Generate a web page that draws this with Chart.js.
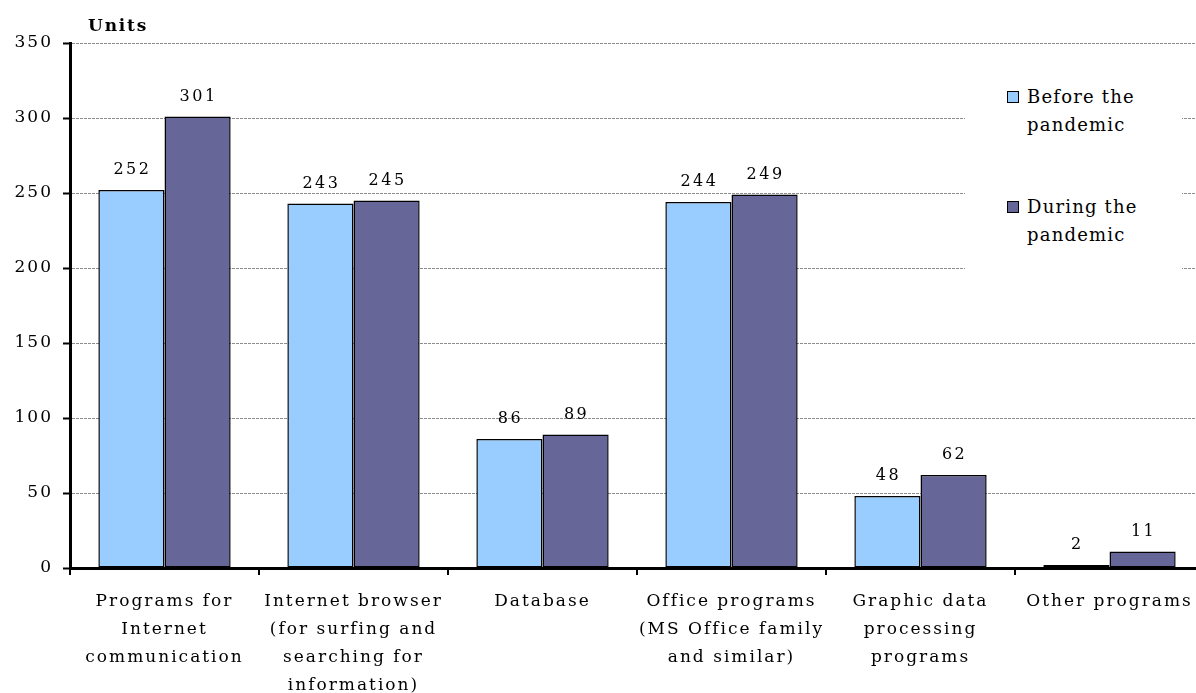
<!DOCTYPE html>
<html>
<head>
<meta charset="utf-8">
<script src="https://cdn.jsdelivr.net/npm/chart.js@4/dist/chart.umd.min.js"></script>
<style>
  html, body { margin: 0; padding: 0; background: #fff; overflow: hidden; }
  #wrap { position: relative; width: 1196px; height: 693px; overflow: hidden; }
  canvas { position: absolute; left: 0; top: 0; }
  #units { position: absolute; left: 88px; top: 13px; font: bold 17px "DejaVu Serif", serif; letter-spacing: 1.8px; color: #000; line-height: 24px; }
  #legend { position: absolute; left: 965px; top: 78px; width: 217px; height: 200px; background: #fff; font: 18px "DejaVu Serif", serif; color: #000; }
  .item { position: absolute; left: 42px; }
  .sw { position: absolute; left: 0; top: 8px; width: 10px; height: 10px; border: 1.5px solid #000; }
  .tx { position: absolute; left: 20px; top: 0; line-height: 28px; white-space: nowrap; letter-spacing: 1.2px; }
</style>
</head>
<body>
<div id="wrap">
  <canvas id="c" width="1204" height="693"></canvas>
  <div id="units">Units</div>
  <div id="legend"></div>
</div>
<script>
const categories = [
  ["Programs for", "Internet", "communication"],
  ["Internet browser", "(for surfing and", "searching for", "information)"],
  ["Database"],
  ["Office programs", "(MS Office family", "and similar)"],
  ["Graphic data", "processing", "programs"],
  ["Other programs"]
];
const seriesNames = ["Before the pandemic", "During the pandemic"];
const legendLines = [["Before the", "pandemic"], ["During the", "pandemic"]];
const beforePandemic = [252, 243, 86, 244, 48, 2];
const duringPandemic = [301, 245, 89, 249, 62, 11];
const yTicks = [0, 50, 100, 150, 200, 250, 300, 350];
const colors = ["#99CCFF", "#666699"];

const FONT = '"DejaVu Serif", serif';

// legend (HTML)
const lg = document.getElementById('legend');
const legendTops = [5, 115];
legendLines.forEach((lines, i) => {
  const it = document.createElement('div');
  it.className = 'item';
  it.style.top = legendTops[i] + 'px';
  it.innerHTML = '<div class="sw" style="background:' + colors[i] + '"></div><div class="tx">' + lines.join('<br>') + '</div>';
  lg.appendChild(it);
});

const spacingPlugin = {
  id: 'spacing',
  beforeDraw(chart) { chart.ctx.letterSpacing = '2px'; }
};

const valueLabels = {
  id: 'valueLabels',
  afterDatasetsDraw(chart) {
    const ctx = chart.ctx;
    ctx.save();
    ctx.letterSpacing = '2.5px';
    ctx.font = '16px ' + FONT;
    ctx.fillStyle = '#000';
    ctx.textAlign = 'center';
    ctx.textBaseline = 'middle';
    chart.data.datasets.forEach((ds, di) => {
      chart.getDatasetMeta(di).data.forEach((bar, i) => {
        ctx.fillText(String(ds.data[i]), bar.x + 1, bar.y - 20);
      });
    });
    ctx.restore();
  }
};

new Chart(document.getElementById('c'), {
  type: 'bar',
  data: {
    labels: categories,
    datasets: [
      { label: seriesNames[0], data: beforePandemic, backgroundColor: colors[0], borderColor: '#000', borderWidth: 1.5, borderSkipped: false },
      { label: seriesNames[1], data: duringPandemic, backgroundColor: colors[1], borderColor: '#000', borderWidth: 1.5, borderSkipped: false }
    ]
  },
  options: {
    responsive: false,
    animation: false,
    devicePixelRatio: 1,
    layout: { padding: { top: 43, left: 0, right: 0, bottom: 0 } },
    plugins: { legend: { display: false }, tooltip: { enabled: false }, title: { display: false } },
    datasets: { bar: { categoryPercentage: 0.7, barPercentage: 1.0 } },
    scales: {
      x: {
        offset: true,
        grid: { display: true, drawOnChartArea: false, color: '#000', tickLength: 7, lineWidth: 2 },
        border: { display: true, color: '#000', width: 3 },
        ticks: { color: '#000', font: { family: FONT, size: 17, lineHeight: 28 / 17 }, padding: 13, maxRotation: 0, autoSkip: false },
        afterFit(scale) { scale.height = 693 - 568; }
      },
      y: {
        min: 0, max: 350,
        afterBuildTicks(scale) { scale.ticks = yTicks.map(v => ({ value: v })); },
        grid: { color: '#8c8c8c', lineWidth: 1, tickColor: '#000', tickLength: 7, tickWidth: 2, tickBorderDash: [] },
        border: { display: true, color: '#000', width: 3, dash: [3, 1] },
        ticks: { color: '#000', font: { family: FONT, size: 17 }, padding: 10 },
        afterFit(scale) { scale.width = 70; }
      }
    }
  },
  plugins: [spacingPlugin, valueLabels]
});
</script>
</body>
</html>
